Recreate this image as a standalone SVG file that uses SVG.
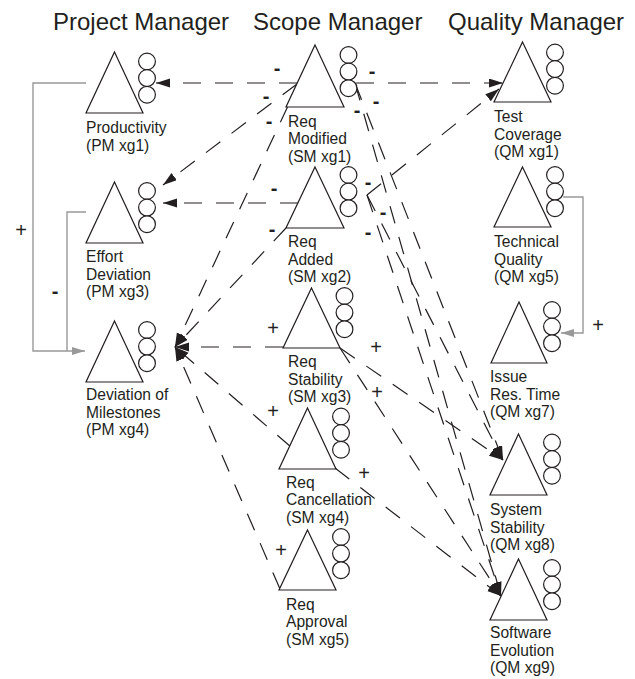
<svg xmlns="http://www.w3.org/2000/svg" width="635" height="679" viewBox="0 0 635 679">
<style>
text{font-family:"Liberation Sans",Arial,sans-serif;fill:#231f20}
.h{font-size:24px}
.l{font-size:15.6px}
.sg{font-size:20px;text-anchor:middle}
.m{font-weight:bold}
.tri,.c{fill:#fff;stroke:#231f20;stroke-width:1.2}
.e{fill:none;stroke:#231f20;stroke-width:1.2;stroke-dasharray:18 14;marker-end:url(#ah)}
.g{fill:none;stroke:#999;stroke-width:1.4}
.ga{marker-end:url(#gh)}
</style>
<defs>
<marker id="ah" markerUnits="userSpaceOnUse" markerWidth="14" markerHeight="10" refX="14" refY="4.5" orient="auto"><path d="M0,0 L14,4.5 L0,9 z" fill="#231f20"/></marker>
<marker id="gh" markerUnits="userSpaceOnUse" markerWidth="14" markerHeight="10" refX="13" refY="4" orient="auto"><path d="M0,0 L13,4 L0,8 z" fill="#999"/></marker>
<g id="cc"><circle class="c" cx="0" cy="0" r="8.4"/><circle class="c" cx="0" cy="16.6" r="8.4"/><circle class="c" cx="0" cy="33.2" r="8.4"/></g>
</defs>

<text class="h" x="53" y="30">Project Manager</text>
<text class="h" x="253" y="30">Scope Manager</text>
<text class="h" x="448" y="30">Quality Manager</text>

<g id="connectors">
<polyline class="g ga" points="86,83 33,83 33,351 85,351"/>
<polyline class="g" points="86,212 67,212 67,351"/>
<polyline class="g ga" points="563,197 583,197 583,333 561,333"/>
<path class="e" d="M297,83 L156,83"/>
<path class="e" d="M356,83 L503,83"/>
<path class="e" d="M297,84 L163,185"/>
<path class="e" d="M288,106 L175,347"/>
<path class="e" d="M298,203 L163,203"/>
<path class="e" d="M286,228 L175,347"/>
<path class="e" d="M283,347 L175,347"/>
<path class="e" d="M291,447 L175,347"/>
<path class="e" d="M280,589 L175,347"/>
<path class="e" d="M367,195 L499,89"/>
<path class="e" d="M355,83 L503,460"/>
<path class="e" d="M355,83 L501,596"/>
<path class="e" d="M367,195 L503,460"/>
<path class="e" d="M367,195 L501,596"/>
<path class="e" d="M340,348 L503,460"/>
<path class="e" d="M340,348 L501,596"/>
<path class="e" d="M335,468 L501,596"/>
<text class="sg" x="21" y="237">+</text>
<text class="sg m" x="55" y="297.5">-</text>
<text class="sg" x="598" y="332">+</text>
<text class="sg m" x="277" y="74.5">-</text>
<text class="sg m" x="266" y="102.5">-</text>
<text class="sg m" x="269" y="127.5">-</text>
<text class="sg m" x="274" y="194.5">-</text>
<text class="sg m" x="272" y="235.5">-</text>
<text class="sg" x="273" y="335">+</text>
<text class="sg" x="273" y="418">+</text>
<text class="sg" x="281" y="557">+</text>
<text class="sg m" x="372" y="77.5">-</text>
<text class="sg m" x="376" y="107.5">-</text>
<text class="sg m" x="357" y="116.5">-</text>
<text class="sg m" x="368" y="188.5">-</text>
<text class="sg m" x="383" y="218.5">-</text>
<text class="sg m" x="368" y="238.5">-</text>
<text class="sg" x="376" y="354">+</text>
<text class="sg" x="377" y="399">+</text>
<text class="sg" x="364" y="480">+</text>
</g>

<g id="pm1"><path class="tri" d="M114.5,52 L143,113 L86,113 z"/><use href="#cc" x="147" y="61.5"/>
<text class="l" x="86" y="133">Productivity</text><text class="l" x="86" y="150.5">(PM xg1)</text></g>
<g id="pm3"><path class="tri" d="M114.5,182 L143,243 L86,243 z"/><use href="#cc" x="147" y="191"/>
<text class="l" x="86" y="262">Effort</text><text class="l" x="86" y="279.5">Deviation</text><text class="l" x="86" y="297">(PM xg3)</text></g>
<g id="pm4"><path class="tri" d="M114.5,321 L143,382 L86,382 z"/><use href="#cc" x="147" y="330"/>
<text class="l" x="86" y="400">Deviation of</text><text class="l" x="86" y="417.5">Milestones</text><text class="l" x="86" y="435">(PM xg4)</text></g>

<g id="sm1"><path class="tri" d="M315,45 L344,107 L286,107 z"/><use href="#cc" x="348.5" y="55"/>
<text class="l" x="288" y="126.5">Req</text><text class="l" x="288" y="144">Modified</text><text class="l" x="288" y="161.5">(SM xg1)</text></g>
<g id="sm2"><path class="tri" d="M315,167 L344,228 L286,228 z"/><use href="#cc" x="348.5" y="175"/>
<text class="l" x="288" y="247">Req</text><text class="l" x="288" y="264.5">Added</text><text class="l" x="288" y="282">(SM xg2)</text></g>
<g id="sm3"><path class="tri" d="M311.5,288 L340,348 L283,348 z"/><use href="#cc" x="344.5" y="296"/>
<text class="l" x="288" y="367">Req</text><text class="l" x="288" y="384.5">Stability</text><text class="l" x="288" y="402">(SM xg3)</text></g>
<g id="sm4"><path class="tri" d="M307.5,408 L336,469 L279,469 z"/><use href="#cc" x="341" y="416.5"/>
<text class="l" x="286" y="487.5">Req</text><text class="l" x="286" y="505">Cancellation</text><text class="l" x="286" y="522.5">(SM xg4)</text></g>
<g id="sm5"><path class="tri" d="M307.5,530 L336,590 L279,590 z"/><use href="#cc" x="341" y="537"/>
<text class="l" x="286" y="609.5">Req</text><text class="l" x="286" y="627">Approval</text><text class="l" x="286" y="644.5">(SM xg5)</text></g>

<g id="qm1"><path class="tri" d="M522.5,42 L551,102 L494,102 z"/><use href="#cc" x="555" y="52.5"/>
<text class="l" x="494" y="122">Test</text><text class="l" x="494" y="139.5">Coverage</text><text class="l" x="494" y="157">(QM xg1)</text></g>
<g id="qm5"><path class="tri" d="M522.5,167 L551,227 L494,227 z"/><use href="#cc" x="555" y="175"/>
<text class="l" x="494" y="247">Technical</text><text class="l" x="494" y="264.5">Quality</text><text class="l" x="494" y="282">(QM xg5)</text></g>
<g id="qm7"><path class="tri" d="M519,302 L547,363 L491,363 z"/><use href="#cc" x="552" y="310"/>
<text class="l" x="490" y="382">Issue</text><text class="l" x="490" y="399.5">Res. Time</text><text class="l" x="490" y="417">(QM xg7)</text></g>
<g id="qm8"><path class="tri" d="M518.5,434 L547,495 L490,495 z"/><use href="#cc" x="552" y="442.5"/>
<text class="l" x="490" y="515">System</text><text class="l" x="490" y="532.5">Stability</text><text class="l" x="490" y="550">(QM xg8)</text></g>
<g id="qm9"><path class="tri" d="M518.5,559 L547,620 L490,620 z"/><use href="#cc" x="552" y="568"/>
<text class="l" x="490" y="638">Software</text><text class="l" x="490" y="655.5">Evolution</text><text class="l" x="490" y="673">(QM xg9)</text></g>
</svg>
